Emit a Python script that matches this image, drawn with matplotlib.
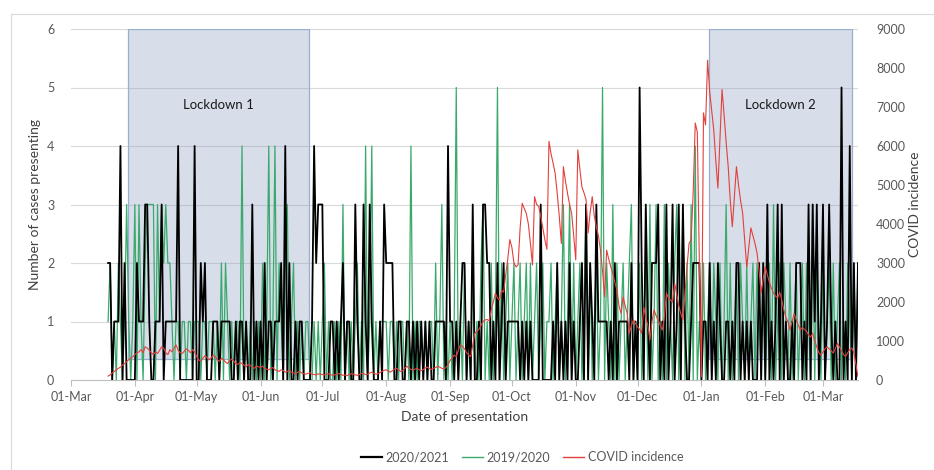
import matplotlib
matplotlib.use("Agg")
import matplotlib.pyplot as plt
import matplotlib.dates as mdates
from matplotlib.lines import Line2D
from matplotlib.patches import Rectangle
import pandas as pd

plt.rcParams["font.family"] = ["Lato", "DejaVu Sans"]

# ---------------------------------------------------------------------------
# Daily presentations, 19 March to 18 March (one row per calendar month)
# ---------------------------------------------------------------------------
first_day = "2020-03-19"

cases_2020_21 = (
    [2, 2, 0, 1, 1, 1, 4, 0, 2, 0, 0, 0, 0]                                   # Mar
    + [0, 2, 1, 1, 1, 3, 3, 1, 0, 0, 1, 1, 1, 3, 0, 1, 1, 1, 1, 1, 1, 4, 0, 0, 0, 0, 0, 0, 0, 4]  # Apr
    + [0, 0, 2, 1, 2, 0, 0, 0, 1, 1, 1, 0, 1, 1, 1, 1, 1, 0, 0, 1, 0, 1, 1, 0, 1, 0, 0, 3, 0, 1, 0]  # May
    + [1, 0, 2, 0, 1, 1, 0, 1, 1, 1, 2, 0, 4, 0, 2, 0, 0, 1, 0, 1, 1, 0, 0, 0, 0, 1, 4, 2, 3, 3]  # Jun
    + [3, 0, 0, 0, 1, 1, 0, 1, 0, 1, 2, 0, 1, 1, 0, 0, 3, 1, 0, 0, 3, 1, 0, 3, 1, 0, 0, 0, 1, 0, 3]  # Jul
    + [2, 2, 2, 2, 0, 0, 1, 1, 0, 0, 1, 1, 0, 1, 0, 1, 0, 1, 0, 1, 0, 1, 0, 0, 1, 1, 1, 1, 1, 0, 4]  # Aug
    + [1, 1, 0, 1, 0, 1, 2, 2, 0, 1, 0, 3, 0, 0, 1, 0, 3, 3, 2, 2, 0, 1, 0, 2, 0, 1, 2, 0, 1, 1]  # Sep
    + [1, 1, 1, 1, 0, 1, 0, 1, 0, 1, 0, 0, 0, 0, 3, 0, 0, 0, 0, 0, 1, 0, 2, 0, 1, 0, 1, 0, 2, 0, 1]  # Oct
    + [0, 0, 1, 2, 0, 3, 0, 2, 1, 0, 3, 1, 1, 1, 1, 1, 0, 1, 0, 2, 0, 1, 1, 1, 1, 1, 0, 2, 0, 1]  # Nov
    + [0, 5, 2, 0, 3, 1, 0, 2, 2, 2, 3, 0, 1, 0, 3, 0, 1, 3, 0, 1, 3, 0, 3, 1, 0, 0, 1, 2, 2, 2, 2]  # Dec
    + [0, 1, 1, 0, 2, 0, 1, 0, 2, 1, 0, 0, 1, 1, 0, 1, 0, 2, 2, 0, 1, 0, 1, 0, 1, 0, 0, 0, 2, 0, 2]  # Jan
    + [0, 3, 0, 1, 0, 1, 3, 0, 3, 0, 1, 0, 0, 1, 0, 2, 2, 2, 0, 1, 0, 3, 0, 3, 1, 3, 0, 1]  # Feb
    + [3, 0, 1, 3, 1, 0, 1, 0, 0, 5, 0, 1, 0, 4, 0, 2, 0, 2]                   # Mar
)

cases_2019_20 = (
    [1, 2, 0, 1, 0, 2, 1, 0, 1, 3, 1, 0, 1]                                   # Mar
    + [3, 0, 3, 1, 0, 2, 3, 3, 3, 3, 0, 3, 1, 3, 2, 3, 2, 2, 1, 0, 1, 1, 0, 1, 1, 0, 1, 1, 0, 1]  # Apr
    + [1, 1, 0, 1, 1, 0, 1, 1, 1, 0, 1, 0, 2, 0, 2, 1, 0, 1, 0, 1, 1, 0, 4, 0, 1, 0, 1, 0, 1, 0, 1]  # May
    + [0, 2, 0, 1, 4, 0, 1, 4, 0, 2, 1, 0, 2, 3, 0, 1, 2, 0, 1, 0, 1, 0, 1, 1, 0, 0, 1, 0, 1, 0]  # Jun
    + [1, 2, 0, 1, 0, 0, 1, 0, 1, 0, 3, 0, 1, 0, 1, 0, 1, 2, 0, 1, 0, 4, 0, 1, 4, 0, 1, 0, 1, 1, 1]  # Jul
    + [1, 0, 1, 1, 0, 1, 0, 1, 1, 0, 1, 0, 4, 0, 1, 0, 1, 1, 0, 1, 0, 1, 1, 0, 2, 0, 1, 3, 0, 1, 0]  # Aug
    + [1, 0, 1, 5, 0, 1, 0, 2, 0, 1, 0, 2, 0, 1, 0, 2, 3, 0, 1, 0, 2, 0, 1, 5, 0, 2, 0, 1, 2, 0]  # Sep
    + [1, 2, 0, 1, 2, 0, 1, 2, 0, 2, 0, 1, 2, 0, 1, 2, 0, 1, 1, 2, 0, 1, 2, 0, 1, 3, 0, 1, 3, 0, 2]  # Oct
    + [0, 1, 2, 0, 1, 3, 0, 2, 0, 1, 2, 0, 1, 5, 0, 2, 1, 0, 3, 0, 2, 0, 1, 2, 0, 1, 2, 3, 0, 1]  # Nov
    + [0, 2, 0, 1, 2, 0, 3, 0, 1, 3, 0, 1, 0, 3, 0, 2, 1, 0, 2, 3, 0, 1, 3, 0, 2, 0, 3, 0, 4, 0, 1]  # Dec
    + [0, 2, 0, 1, 2, 0, 2, 1, 0, 2, 0, 1, 3, 0, 2, 0, 1, 2, 0, 2, 1, 0, 2, 0, 1, 2, 0, 2, 1, 0, 2]  # Jan
    + [0, 1, 2, 0, 3, 0, 1, 2, 0, 2, 1, 0, 2, 0, 1, 2, 0, 1, 2, 0, 2, 1, 0, 3, 0, 2, 1, 0]  # Feb
    + [2, 0, 1, 2, 0, 2, 0, 1, 2, 0, 1, 0, 2, 1, 0, 2, 0, 2]                   # Mar
)

covid_incidence = (
    [100, 130, 180, 220, 260, 300, 330, 380, 420, 470, 520, 560, 600]         # Mar
    + [650, 700, 720, 780, 700, 850, 820, 760, 700, 650, 720, 680, 760, 850, 820,
       700, 650, 780, 720, 820, 900, 760, 700, 680, 740, 800, 760, 700, 780, 720]  # Apr
    + [600, 520, 480, 560, 620, 580, 520, 560, 640, 600, 520, 480, 560, 520, 460, 420,
       500, 540, 480, 420, 400, 450, 420, 380, 340, 400, 380, 320, 300, 360, 340]  # May
    + [320, 360, 300, 280, 260, 300, 320, 260, 240, 220, 260, 240, 200, 220, 250,
       200, 180, 160, 200, 220, 180, 160, 150, 170, 190, 150, 140, 130, 160, 150]  # Jun
    + [140, 130, 150, 160, 140, 120, 130, 150, 170, 140, 120, 130, 110, 140, 160, 150,
       130, 120, 140, 170, 160, 140, 150, 180, 200, 170, 150, 160, 190, 220, 250]  # Jul
    + [260, 230, 200, 240, 280, 300, 260, 220, 240, 300, 350, 310, 270, 250, 280, 300,
       260, 240, 270, 310, 330, 290, 270, 300, 320, 350, 330, 300, 280, 320, 400]  # Aug
    + [500, 560, 640, 600, 760, 900, 860, 800, 700, 640, 600, 900, 1200, 1250, 1300,
       1400, 1500, 1540, 1550, 1520, 1800, 2000, 2230, 2100, 2050, 2300, 2250, 2700, 3100, 3600]  # Sep
    + [3400, 3000, 2900, 2950, 3900, 4530, 4400, 4270, 4000, 3500, 2950, 4700, 4500, 4450, 4200, 3900,
       3600, 3350, 6120, 5800, 5560, 5300, 4790, 4200, 3500, 5470, 5100, 4790, 4500, 4270, 3700]  # Oct
    + [3080, 5900, 5400, 4950, 4800, 4620, 3770, 4300, 4700, 4200, 3930, 3700, 3330, 2800, 2130,
       3330, 3100, 2900, 2740, 2500, 2300, 1900, 1710, 2130, 1900, 1700, 1200, 1400, 1540, 1450]  # Nov
    + [1360, 1300, 1200, 1870, 1600, 1400, 1030, 1500, 1800, 1650, 1540, 1400, 1280, 1600, 2230, 2100,
       2050, 2000, 2480, 2200, 1900, 1700, 1540, 2200, 2900, 3500, 3600, 4800, 6590, 6360, 3000]  # Dec
    + [80, 6850, 6540, 8200, 7400, 6900, 6400, 5600, 4920, 6200, 7450, 6800, 6100, 5470, 4600, 3930,
       4700, 5470, 5000, 4600, 4280, 3600, 2900, 3400, 3900, 3700, 3500, 3250, 2800, 2230, 2600]  # Jan
    + [2900, 2700, 2500, 2350, 2230, 2150, 2100, 2250, 2050, 1800, 1600, 1500, 1280, 1500,
       1700, 1550, 1400, 1280, 1350, 1300, 1250, 1150, 1100, 1200, 1000, 850, 700, 640]  # Feb
    + [720, 800, 850, 800, 750, 690, 800, 940, 850, 750, 650, 600, 700, 780, 820, 700, 400, 80]  # Mar
)

lockdowns = [
    ("Lockdown 1", "2020-03-28 12:00", "2020-06-24 12:00"),
    ("Lockdown 2", "2021-01-04 16:00", "2021-03-15 00:00"),
]
lockdown_floor = 0.36     # lower edge of the shaded lockdown blocks (left-axis units)
lockdown_ceiling = 6.0
label_level = 4.7

series_names = ["2020/2021", "2019/2020", "COVID incidence"]
series_colors = ["#000000", "#3aa96b", "#e2403c"]

dates = pd.date_range(first_day, periods=len(cases_2020_21), freq="D")

# ---------------------------------------------------------------------------
fig = plt.figure(figsize=(9.34, 4.70), dpi=100)
ax = fig.add_axes([71 / 934, 1 - 380 / 470, (858 - 71) / 934, (380 - 29) / 470])
ax2 = ax.twinx()

grid_c = "#d9d9d9"
text_c = "#595959"

# lockdown blocks
for name, t0, t1 in lockdowns:
    x0 = mdates.date2num(pd.Timestamp(t0))
    x1 = mdates.date2num(pd.Timestamp(t1))
    ax.add_patch(Rectangle((x0, lockdown_floor), x1 - x0, lockdown_ceiling - lockdown_floor,
                           facecolor="#8a9fc2", alpha=0.34, edgecolor="none", zorder=1.5))
    ax.add_patch(Rectangle((x0, lockdown_floor), x1 - x0, lockdown_ceiling - lockdown_floor,
                           facecolor="none", edgecolor="#9aaed0", linewidth=0.9, zorder=1.6))
    ax.text((x0 + x1) / 2, label_level, name, ha="center", va="center",
            fontsize=9.5, color="#1a1a1a", zorder=5)

ax.plot(dates, cases_2019_20, color=series_colors[1], lw=0.9, zorder=3)
ax.plot(dates, cases_2020_21, color=series_colors[0], lw=1.3, zorder=4)
ax2.plot(dates, covid_incidence, color=series_colors[2], lw=0.8, zorder=3)

# left axis
ax.set_ylim(0, 6)
ax.set_yticks(range(0, 7))
ax.grid(axis="y", color=grid_c, lw=0.8, zorder=0)
ax.set_axisbelow(True)
ax.set_ylabel("Number of cases presenting", fontsize=10, color="#404040", labelpad=4)

# right axis
ax2.set_ylim(0, 9000)
ax2.set_yticks(range(0, 9001, 1000))
ax2.set_ylabel("COVID incidence", fontsize=10, color="#404040", labelpad=3)

# date axis
ax.set_xlim(pd.Timestamp("2020-03-01"), dates[-1])
ax.xaxis.set_major_locator(mdates.MonthLocator(bymonthday=1))
ax.xaxis.set_major_formatter(mdates.DateFormatter("%d-%b"))
ax.set_xlabel("Date of presentation", fontsize=10, color="#404040", labelpad=6)

for a in (ax, ax2):
    for s in a.spines.values():
        s.set_visible(False)
ax.spines["bottom"].set_visible(True)
ax.spines["bottom"].set_color("#bfbfbf")
ax.spines["bottom"].set_linewidth(0.8)
ax.tick_params(axis="x", colors="#bfbfbf", labelcolor=text_c, labelsize=9,
               length=4, width=0.8, direction="out", pad=4)
ax.tick_params(axis="y", length=0, labelcolor=text_c, labelsize=9, pad=12)
ax2.tick_params(axis="y", length=0, labelcolor=text_c, labelsize=9, pad=13)

# legend below the plot
handles = [Line2D([], [], color=c, lw=1.6 if i == 0 else 1.0) for i, c in enumerate(series_colors)]
fig.legend(handles, series_names, loc="center", bbox_to_anchor=(522 / 934, 1 - 457 / 470),
           ncol=3, frameon=False, fontsize=9, handlelength=1.7, handletextpad=0.3,
           columnspacing=1.0, labelcolor=text_c)

# light frame around the chart area
fig.add_artist(Line2D([11 / 934, 1], [1 - 14 / 470, 1 - 14 / 470], color="#d9d9d9", lw=0.8,
                      transform=fig.transFigure))
fig.add_artist(Line2D([11 / 934, 11 / 934], [0, 1 - 14 / 470], color="#d9d9d9", lw=0.8,
                      transform=fig.transFigure))

fig.savefig("out.png", dpi=100)
